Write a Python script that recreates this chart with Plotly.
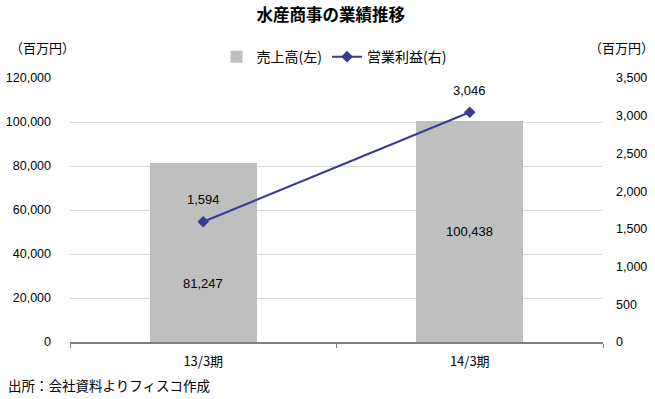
import plotly.graph_objects as go

categories = ["13/3期", "14/3期"]
sales = [81247, 100438]
op_profit = [1594, 3046]
sales_label_y = [26500, 50219]

title = "水産商事の業績推移"
sales_name = "売上高(左)"
profit_name = "営業利益(右)"
unit = "（百万円）"
source = "出所：会社資料よりフィスコ作成"

JP = "Noto Sans CJK JP, Liberation Sans, sans-serif"
NUM = "Liberation Sans, Arial, sans-serif"

fig = go.Figure()
fig.add_trace(go.Bar(
    x=categories, y=sales, name=sales_name,
    marker=dict(color="#BFBFBF", line=dict(width=0)),
    width=0.4, yaxis="y",
))
fig.add_trace(go.Scatter(
    x=categories, y=op_profit, name=profit_name, yaxis="y2",
    mode="lines+markers",
    line=dict(color="#3A3A9A", width=2),
    marker=dict(symbol="diamond", size=9, color="#3A3A9A"),
))
for c, v, ly in zip(categories, sales, sales_label_y):
    fig.add_annotation(x=c, y=ly, xref="x", yref="y", text=f"{v:,}",
                       showarrow=False, font=dict(family=NUM, size=13, color="#000000"))
for c, v in zip(categories, op_profit):
    fig.add_annotation(x=c, y=v, xref="x", yref="y2", text=f"{v:,}", yshift=22,
                       showarrow=False, font=dict(family=NUM, size=13, color="#000000"))

fig.update_layout(
    width=655, height=399,
    margin=dict(l=70, r=52, t=78, b=57, autoexpand=False),
    paper_bgcolor="white", plot_bgcolor="white",
    title=dict(text=f"<b>{title}</b>", x=0.505, xanchor="center", y=0.962, yanchor="middle",
               xref="container", yref="container",
               font=dict(family=JP, size=16.5, color="#000000")),
    showlegend=True,
    legend=dict(orientation="h", x=0.51, xanchor="center", y=0.857, yanchor="middle",
                xref="container", yref="container",
                font=dict(family=JP, size=14, color="#000000"),
                bgcolor="rgba(0,0,0,0)", traceorder="normal"),
    bargap=0,
    xaxis=dict(
        tickfont=dict(family=JP, size=13, color="#000000"),
        showline=True, linecolor="#808080", linewidth=2,
        ticks="outside", tickson="boundaries", ticklen=4, tickcolor="#808080",
        showgrid=False, automargin=False, ticklabelstandoff=6,
    ),
    yaxis=dict(
        range=[0, 120000], dtick=20000, tickformat=",",
        tickfont=dict(family=NUM, size=12.5, color="#000000"),
        showgrid=True, gridcolor="#D9D9D9", gridwidth=1,
        ticks="", ticklabelstandoff=18, automargin=False,
        zeroline=False, showline=False,
    ),
    yaxis2=dict(
        range=[0, 3500], dtick=500, tickformat=",",
        overlaying="y", side="right",
        tickfont=dict(family=NUM, size=12.5, color="#000000"),
        showgrid=False, zeroline=False, showline=False,
        ticks="", ticklabelstandoff=12, automargin=False,
    ),
)

fig.add_annotation(x=0.0, y=1.0, xref="paper", yref="paper", xshift=-62, yshift=31,
                   xanchor="left", yanchor="middle", text=unit, showarrow=False,
                   font=dict(family=JP, size=13, color="#000000"))
fig.add_annotation(x=1.0, y=1.0, xref="paper", yref="paper", xshift=-16, yshift=31,
                   xanchor="left", yanchor="middle", text=unit, showarrow=False,
                   font=dict(family=JP, size=13, color="#000000"))
fig.add_annotation(x=0.0, y=0.0, xref="paper", yref="paper", xshift=-64, yshift=-43,
                   xanchor="left", yanchor="middle", text=source, showarrow=False,
                   font=dict(family=JP, size=13.5, color="#000000"))

fig.write_html("out.html")
